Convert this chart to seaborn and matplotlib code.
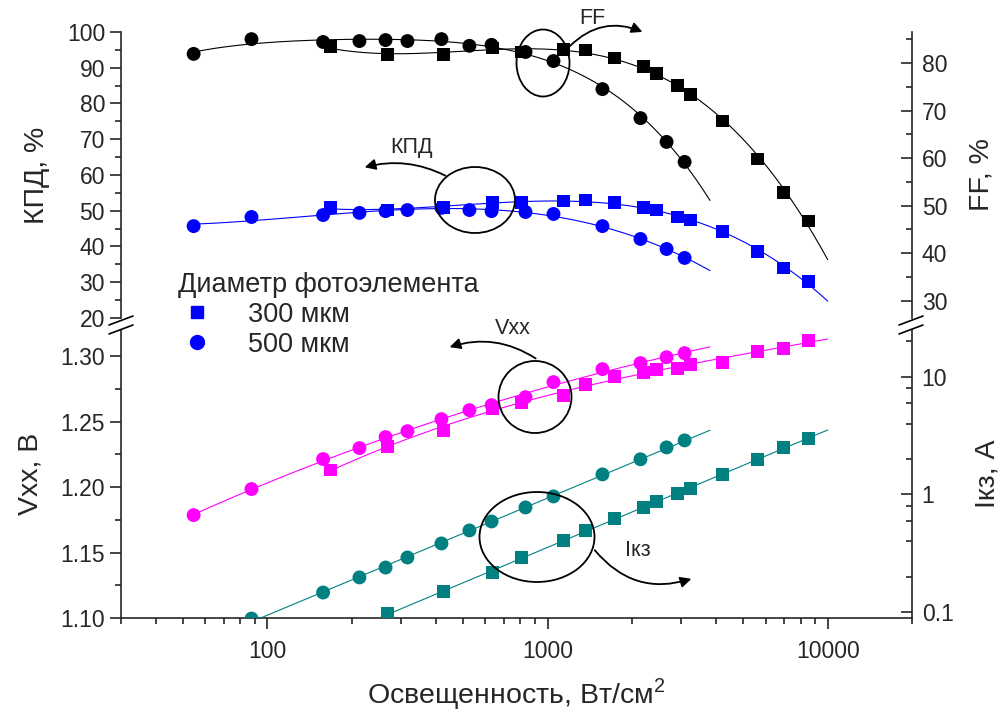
import numpy as np
import seaborn as sns
import matplotlib.pyplot as plt
from matplotlib.patches import Ellipse, FancyArrowPatch
from matplotlib.lines import Line2D
from matplotlib.ticker import MultipleLocator, LogLocator, NullFormatter, FixedLocator, FixedFormatter

# illumination, W/cm2
x500 = [54.5, 87.7, 158, 213, 264, 316, 418, 526, 631, 834, 1050, 1570, 2146, 2660, 3085]
x300 = [168, 268, 425, 636, 807, 1140, 1367, 1733, 2202, 2449, 2909, 3243, 4218, 5623, 6966, 8550]

# efficiency (left top axis), %
kpd500 = [45.7, 48.25, 48.8, 49.4, 49.9, 50.2, 50.8, 50.2, 49.9, 49.65, 49.1, 45.7, 42.1, 39.3, 36.8]
kpd300 = [50.8, 50.2, 50.8, 52.4, 52.4, 52.7, 53.0, 52.2, 50.8, 50.2, 48.25, 47.4, 44.1, 38.7, 34.0, 30.1]

# fill factor (right top axis), %
ff500 = [81.9, 85.0, 84.4, 84.6, 84.8, 84.6, 85.0, 83.6, 83.8, 82.3, 80.4, 74.5, 68.4, 63.4, 59.2]
ff300 = [83.4, 81.7, 81.7, 83.15, 82.3, 82.9, 82.7, 81.05, 79.2, 77.7, 75.2, 73.3, 67.8, 59.8, 52.7, 46.8]

# open circuit voltage (left bottom axis), V
vxx500 = [1.1786, 1.1985, 1.2214, 1.2298, 1.2382, 1.2427, 1.2519, 1.2588, 1.2626, 1.2687,
          1.2802, 1.2901, 1.2947, 1.2992, 1.3023]
vxx300 = [1.213, 1.2313, 1.2435, 1.2603, 1.2649, 1.2702, 1.2786, 1.2847, 1.2878, 1.2901,
          1.2908, 1.2939, 1.2954, 1.3038, 1.3061, 1.3122]

# short circuit current (right bottom axis, log), A  -- first illumination point is off scale
isc500 = [0.088, 0.1466, 0.197, 0.239, 0.291, 0.383, 0.494, 0.589, 0.775, 0.962, 1.48, 1.99, 2.51, 2.88]
isc300 = [0.097, 0.149, 0.217, 0.291, 0.406, 0.494, 0.625, 0.775, 0.872, 1.02, 1.125, 1.48, 1.99, 2.51, 3.0]

fit_end500 = 3800
fit_end300 = 10000

BLUE = "#0000FF"
MAGENTA = "#FF00FF"
TEAL = "#008080"

sns.set_style("ticks")
plt.rcParams['font.family'] = ['Liberation Sans', 'DejaVu Sans']
plt.rcParams['mathtext.fontset'] = 'custom'
plt.rcParams['mathtext.rm'] = 'Liberation Sans'


def fit_curve(x, y, x_end, deg=3, logy=False):
    lx = np.log10(x)
    ly = np.log10(y) if logy else np.asarray(y)
    c = np.polyfit(lx, ly, deg)
    grid = np.logspace(lx[0], np.log10(x_end), 200)
    yy = np.polyval(c, np.log10(grid))
    return grid, (10 ** yy if logy else yy)


def draw(ax, x, y, x_end, color, marker, deg=3, logy=False):
    gx, gy = fit_curve(x, y, x_end, deg, logy)
    sns.lineplot(x=gx, y=gy, ax=ax, color=color, lw=0.8, sort=False, zorder=2)
    size = 100 if marker == "o" else 85
    sns.scatterplot(x=x, y=y, ax=ax, color=color, marker=marker, s=size,
                    linewidth=0, edgecolor="none", zorder=3)


W, H = 1006, 712
fig = plt.figure(figsize=(W / 100, H / 100), dpi=100)
L = 121 / W
AW = 791 / W
ax_top = fig.add_axes([L, 1 - 318 / H, AW, 286 / H])
ax_bot = fig.add_axes([L, 1 - 618 / H, AW, 288 / H])
ax_ff = ax_top.twinx()
ax_isc = ax_bot.twinx()

for a in (ax_top, ax_bot, ax_ff, ax_isc):
    a.set_xscale("log")
    a.set_xlim(30, 20000)
    for s in a.spines.values():
        s.set_linewidth(1.2)

ax_isc.set_yscale("log")

draw(ax_top, x500, kpd500, fit_end500, BLUE, "o")
draw(ax_top, x300, kpd300, fit_end300, BLUE, "s")
draw(ax_ff, x500, ff500, fit_end500, "black", "o", deg=4)
draw(ax_ff, x300, ff300, fit_end300, "black", "s")
draw(ax_bot, x500, vxx500, fit_end500, MAGENTA, "o")
draw(ax_bot, x300, vxx300, fit_end300, MAGENTA, "s")
draw(ax_isc, x500[1:], isc500, fit_end500, TEAL, "o", deg=1, logy=True)
draw(ax_isc, x300[1:], isc300, fit_end300, TEAL, "s", deg=1, logy=True)

ax_top.set_ylim(20, 100)
ax_ff.set_ylim(26.4, 86.5)
ax_bot.set_ylim(1.10, 1.32)
ax_isc.set_ylim(0.089, 25)

tick_font = 16.5
label_font = 20.5
# top panel
ax_top.spines[["top", "bottom", "right"]].set_visible(False)
ax_top.tick_params(axis="x", which="both", bottom=False, labelbottom=False)
ax_top.yaxis.set_major_locator(MultipleLocator(10))
ax_top.yaxis.set_minor_locator(MultipleLocator(5))
ax_top.tick_params(axis="y", which="major", direction="out", length=8, width=1.2, labelsize=tick_font)
ax_top.tick_params(axis="y", which="minor", direction="out", length=4.5, width=1.2)
ax_top.set_ylabel("КПД, %", fontsize=label_font, labelpad=12)

ax_ff.spines[["top", "bottom", "left"]].set_visible(False)
ax_ff.set_yticks([30, 40, 50, 60, 70, 80])
ax_ff.yaxis.set_minor_locator(FixedLocator([35, 45, 55, 65, 75, 85]))
ax_ff.tick_params(axis="y", which="major", direction="in", length=8, width=1.2, labelsize=tick_font, pad=7)
ax_ff.tick_params(axis="y", which="minor", direction="in", length=4.5, width=1.2)
ax_ff.set_ylabel("FF, %", fontsize=label_font, labelpad=15)

# bottom panel
ax_bot.spines[["top", "right"]].set_visible(False)
ax_bot.yaxis.set_major_locator(MultipleLocator(0.05))
ax_bot.yaxis.set_minor_locator(MultipleLocator(0.025))
ax_bot.yaxis.set_major_formatter(plt.FormatStrFormatter("%.2f"))
ax_bot.tick_params(axis="both", which="major", direction="out", length=8, width=1.2, labelsize=tick_font)
ax_bot.tick_params(axis="both", which="minor", direction="out", length=4.5, width=1.2)
ax_bot.xaxis.set_major_locator(FixedLocator([100, 1000, 10000]))
ax_bot.xaxis.set_major_formatter(FixedFormatter(["100", "1000", "10000"]))
ax_bot.xaxis.set_minor_locator(LogLocator(base=10, subs=np.arange(2, 10)))
ax_bot.xaxis.set_minor_formatter(NullFormatter())
ax_bot.tick_params(axis="x", which="major", pad=8)
ax_bot.set_ylabel("Vxx, В", fontsize=label_font, labelpad=12)
ax_bot.set_xlabel("Освещенность, Вт/см$^2$", fontsize=label_font, labelpad=9)

ax_isc.spines[["top", "bottom", "left"]].set_visible(False)
ax_isc.yaxis.set_major_locator(FixedLocator([0.1, 1, 10]))
ax_isc.yaxis.set_major_formatter(FixedFormatter(["0.1", "1", "10"]))
ax_isc.yaxis.set_minor_locator(LogLocator(base=10, subs=[2, 4, 6, 8]))
ax_isc.yaxis.set_minor_formatter(NullFormatter())
ax_isc.tick_params(axis="y", which="major", direction="in", length=8, width=1.2, labelsize=tick_font, pad=7)
ax_isc.tick_params(axis="y", which="minor", direction="in", length=4.5, width=1.2)
ax_isc.set_ylabel("Iкз, А", fontsize=label_font, labelpad=15)

for a in (ax_top, ax_bot, ax_ff, ax_isc):
    leg = a.get_legend()
    if leg:
        leg.remove()


def fx(px):
    return px / W


def fy(py):
    return 1 - py / H


# axis break marks
for x0, x1 in ((109, 133), (899, 923)):
    for dy in (0, 9):
        fig.add_artist(Line2D([fx(x0), fx(x1)], [fy(325 + dy), fy(316 + dy)],
                              color="black", lw=1.2, transform=fig.transFigure))

# ellipses and arrows
ellipses = [((543, 63), 53, 67), ((475, 200), 80, 66), ((535, 397), 73, 72), ((537, 537), 115, 90)]
for (cx, cy), w, h in ellipses:
    fig.add_artist(Ellipse((fx(cx), fy(cy)), w / W, h / H, fill=False, lw=1.3,
                           edgecolor="black", transform=fig.transFigure))

arrows = [((568, 48), (645, 33), -0.35), ((448, 177), (362, 168), 0.2),
          ((538, 360), (447, 348), 0.25), ((593, 548), (694, 578), 0.35)]
for (x0, y0), (x1, y1), rad in arrows:
    fig.add_artist(FancyArrowPatch((fx(x0), fy(y0)), (fx(x1), fy(y1)),
                                   transform=fig.transFigure, arrowstyle="-|>",
                                   mutation_scale=16, lw=1.3, color="black",
                                   connectionstyle=f"arc3,rad={rad}"))

notes = [("FF", 592, 18), ("КПД", 412, 148), ("Vxx", 513, 329), ("Iкз", 638, 550)]
for txt, px, py in notes:
    fig.text(fx(px), fy(py), txt, fontsize=15.5, ha="center", va="center")

# legend
handles = [Line2D([], [], ls="none", marker="s", color=BLUE, markersize=9),
           Line2D([], [], ls="none", marker="o", color=BLUE, markersize=10)]
leg = fig.legend(handles, ["300 мкм", "500 мкм"], title="Диаметр фотоэлемента",
                 loc="upper left", bbox_to_anchor=(fx(164), fy(258)), frameon=False,
                 fontsize=19.5, title_fontsize=19.5, alignment="left",
                 handletextpad=1.2, labelspacing=0.15, borderpad=0, handlelength=1.4)

fig.savefig("out.png", dpi=100)
